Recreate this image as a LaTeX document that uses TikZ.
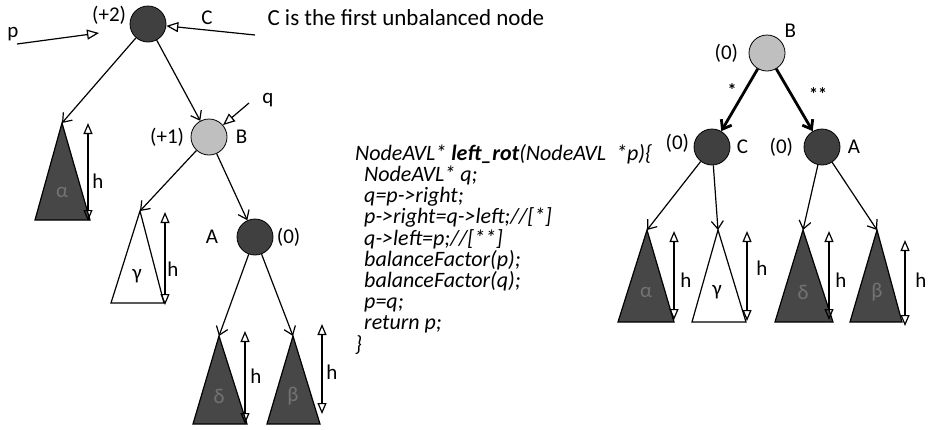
\documentclass[tikz,border=0pt]{standalone}
\usepackage{fontspec}
\setmainfont{Carlito}
\usetikzlibrary{arrows.meta}
\tikzset{
 dk/.style={circle,draw,thick,fill=black!75,inner sep=0pt,minimum size=36pt},
 lt/.style={circle,draw,thick,fill=black!25,inner sep=0pt,minimum size=36pt},
 ed/.style={line width=1.2pt,-{Straight Barb[length=8pt,width=12pt]}},
 ptr/.style={line width=1.2pt,-{Triangle[open,length=12pt,width=10pt]}},
 ht/.style={line width=1.2pt,{Triangle[open,length=11pt,width=9pt]}-{Triangle[open,length=11pt,width=9pt]}},
 sdk/.style={draw,line width=1.2pt,fill=black!72},
 swt/.style={draw,line width=1.2pt,fill=white},
 dim/.style={text=black!55}}

\begin{document}
\begin{tikzpicture}[x=1pt,y=-1pt,font=\fontsize{21}{23}\selectfont,label distance=2pt]
 \useasboundingbox (0,0) rectangle (929,429);
 % tree before the rotation
 \node[dk,label={[yshift=9pt,label distance=0pt]left:{(+2)}}] (C) at (148,24) {};
 \node[lt,label={[label distance=3pt]left:{(+1)}},label={[label distance=5pt]right:{B}}] (B) at (209,137) {};
 \node[dk,label={[label distance=15pt]left:{A}},label={[label distance=0pt]right:{(0)}}] (A) at (255,237) {};
 \node (pn) at (13,34) {p};
 \node (cn) at (207,18) {C};
 \node (qn) at (268,100) {q};
 \node[anchor=west,font=\fontsize{23}{25}\selectfont] (note) at (264,18) {C is the first unbalanced node};
 \coordinate (p0) at (17,44);
 \coordinate (p1) at (99,33);
 \coordinate (c0) at (255,35);
 \coordinate (q0) at (249,103);
 \draw[ptr] (p0) -- (p1);
 \draw[ptr] (c0) -- (C);
 \draw[ptr] (q0) -- (B);
 \draw[sdk] (62,123) coordinate (t1) -- (90,220) -- (35,220) -- cycle;
 \draw[swt] (140,211) coordinate (t2) -- (164,303) -- (111,303) -- cycle;
 \draw[sdk] (219,336) coordinate (t3) -- (247,424) -- (193,424) -- cycle;
 \draw[sdk] (293,336) coordinate (t4) -- (320,424) -- (267,424) -- cycle;
 \node[dim] at (62,192) {α};
 \node at (137,276) {γ};
 \node[dim] at (219,396) {δ};
 \node[dim] at (293,396) {β};
 \draw[ed] (C) -- (t1);
 \draw[ed] (C) -- (B);
 \draw[ed] (B) -- (t2);
 \draw[ed] (B) -- (A);
 \draw[ed] (A) -- (t3);
 \draw[ed] (A) -- (t4);
 \draw[ht] (88,123) -- (88,221);
 \draw[ht] (165,212) -- (165,305);
 \draw[ht] (245,331) -- (245,424);
 \draw[ht] (322,324) -- (322,414);
 \node at (98,181) {h};
 \node at (173,269) {h};
 \node at (256,376) {h};
 \node at (332,372) {h};
 % the rotation code
 \node[anchor=north west,align=left,inner sep=0pt,font=\itshape\fontsize{22}{21.2}\selectfont] (code) at (355,144)
  {NodeAVL* \textbf{left\_rot}(NodeAVL\ \ *p)\{\\
  \hspace*{9pt}NodeAVL* q;\\
  \hspace*{9pt}q=p->right;\\
  \hspace*{9pt}p->right=q->left;//[*]\\
  \hspace*{9pt}q->left=p;//[**]\\
  \hspace*{9pt}balanceFactor(p);\\
  \hspace*{9pt}balanceFactor(q);\\
  \hspace*{9pt}p=q;\\
  \hspace*{9pt}return p;\\
  \}};
 % tree after the rotation
 \node[lt,label={[label distance=7pt]left:{(0)}},label={[label distance=0pt]40:{B}}] (B2) at (767,53) {};
 \node[dk,label={[yshift=4pt,label distance=1pt]left:{(0)}},label={[label distance=3pt]right:{C}}] (C2) at (712,147) {};
 \node[dk,label={[label distance=7pt]left:{(0)}},label={[label distance=4pt]right:{A}}] (A2) at (822,147) {};
 \draw[ed,line width=2.8pt] (B2) -- (C2);
 \draw[ed,line width=2.8pt] (B2) -- (A2);
 \node[font=\bfseries\fontsize{18}{20}\selectfont] at (732,90) {*};
 \node[font=\bfseries\fontsize{18}{20}\selectfont] at (818,94) {**};
 \draw[sdk] (647,230) coordinate (u1) -- (674,322) -- (618,322) -- cycle;
 \draw[swt] (718,230) coordinate (u2) -- (746,322) -- (692,322) -- cycle;
 \draw[sdk] (803,230) coordinate (u3) -- (833,322) -- (775,322) -- cycle;
 \draw[sdk] (877,230) coordinate (u4) -- (902,322) -- (850,322) -- cycle;
 \node[dim] at (646,292) {α};
 \node at (717,292) {γ};
 \node[dim] at (803,292) {δ};
 \node[dim] at (877,292) {β};
 \draw[ed] (C2) -- (u1);
 \draw[ed] (C2) -- (u2);
 \draw[ed] (A2) -- (u3);
 \draw[ed] (A2) -- (u4);
 \draw[ht] (674,231) -- (674,320);
 \draw[ht] (747,231) -- (747,321);
 \draw[ht] (829,231) -- (829,320);
 \draw[ht] (905,240) -- (905,326);
 \node at (686,280) {h};
 \node at (762,268) {h};
 \node at (841,280) {h};
 \node at (921,280) {h};
\end{tikzpicture}
\end{document}
